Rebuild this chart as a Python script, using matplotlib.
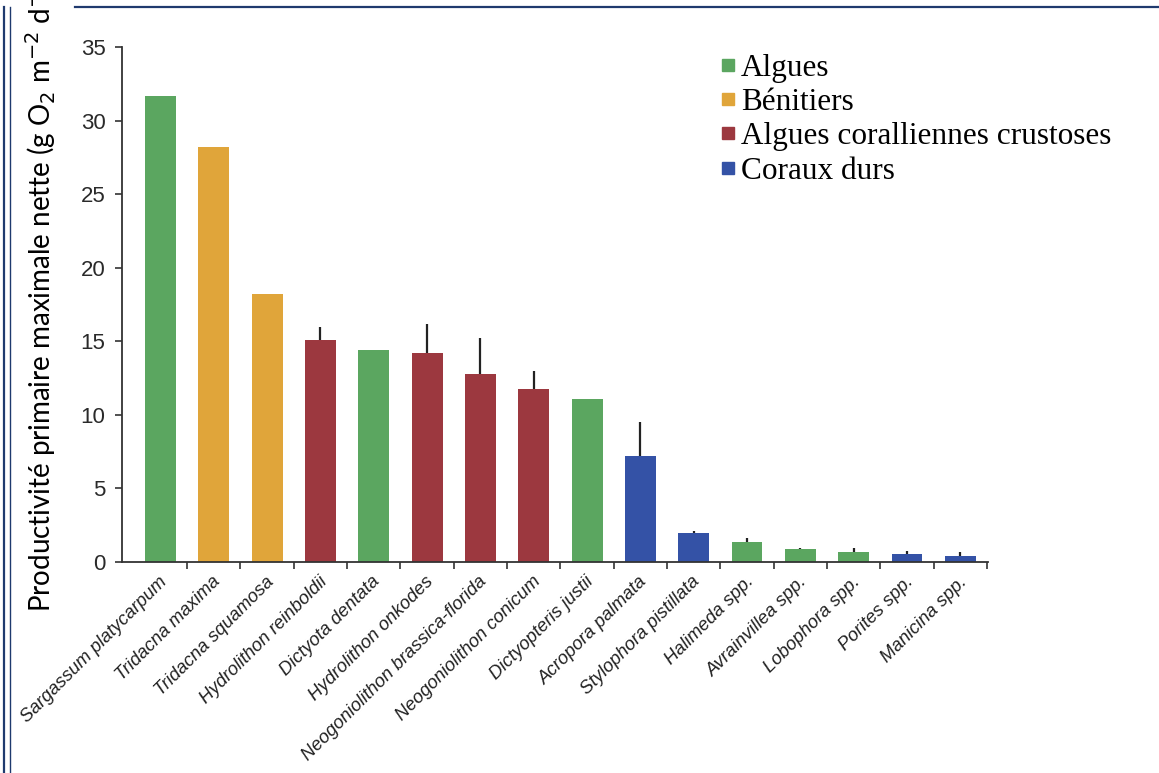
import numpy as np
import matplotlib.pyplot as plt
from matplotlib.lines import Line2D
import matplotlib.transforms as mtransforms

# Net maximum primary productivity by taxon
species = [
    "Sargassum platycarpum", "Tridacna maxima", "Tridacna squamosa",
    "Hydrolithon reinboldii", "Dictyota dentata", "Hydrolithon onkodes",
    "Neogoniolithon brassica-florida", "Neogoniolithon conicum",
    "Dictyopteris justii", "Acropora palmata", "Stylophora pistillata",
    "Halimeda spp.", "Avrainvillea spp.", "Lobophora spp.",
    "Porites spp.", "Manicina spp.",
]
groups = [
    "Algues", "Bénitiers", "Bénitiers", "Algues coralliennes crustoses",
    "Algues", "Algues coralliennes crustoses", "Algues coralliennes crustoses",
    "Algues coralliennes crustoses", "Algues", "Coraux durs", "Coraux durs",
    "Algues", "Algues", "Algues", "Coraux durs", "Coraux durs",
]
productivity = [31.7, 28.2, 18.2, 15.1, 14.4, 14.2, 12.8, 11.75,
                11.05, 7.2, 1.95, 1.35, 0.87, 0.71, 0.52, 0.39]
error_up = [0, 0, 0, 0.9, 0, 2.0, 2.4, 1.25,
            0, 2.3, 0.15, 0.25, 0.1, 0.22, 0.21, 0.27]

group_names = ["Algues", "Bénitiers", "Algues coralliennes crustoses", "Coraux durs"]
group_colors = {
    "Algues": "#5ba660",
    "Bénitiers": "#e0a53a",
    "Algues coralliennes crustoses": "#9c383f",
    "Coraux durs": "#3452a6",
}

fig = plt.figure(figsize=(11.59, 7.73), dpi=100)
ax = fig.add_axes([0.1053, 0.2730, 0.7472, 0.6662])

x = np.arange(len(species))
colors = [group_colors[g] for g in groups]
ax.bar(x, productivity, width=0.58, color=colors, zorder=2)
ax.errorbar(x, productivity, yerr=[np.zeros(len(x)), error_up], fmt="none",
            ecolor="#222222", elinewidth=1.6, capsize=0, zorder=3)

ax.set_xlim(-0.72, 15.52)
ax.set_ylim(0, 35)
ax.set_yticks(np.arange(0, 36, 5))
ax.set_xticks(x + 0.5)
ax.set_xticklabels([])
ax.tick_params(axis="both", direction="out", length=5, width=1.2,
               color="#333333", labelsize=16)
ax.tick_params(axis="y", pad=7)
for lbl in ax.get_yticklabels():
    lbl.set_fontfamily("Liberation Sans")
    lbl.set_color("#2a2a2a")

for side in ["top", "right"]:
    ax.spines[side].set_visible(False)
for side in ["left", "bottom"]:
    ax.spines[side].set_color("#333333")
    ax.spines[side].set_linewidth(1.3)

# species names under the bars, rotated 45 degrees
offset = mtransforms.ScaledTranslation(-1.5 / 72, -8 / 72, fig.dpi_scale_trans)
for xi, name in zip(x, species):
    ax.text(xi, 0, name, transform=ax.get_xaxis_transform() + offset,
            rotation=45, rotation_mode="anchor", ha="right", va="top",
            fontsize=13.2, style="italic", family="Liberation Sans",
            color="#222222")

fig.text(0.035, 1 - 612 / 773,
         "Productivité primaire maximale nette (g O$_2$ m$^{-2}$ d$^{-1}$)",
         rotation=90, ha="center", va="bottom", fontsize=20,
         family=["Lato", "DejaVu Sans"])

handles = [Line2D([], [], marker="s", linestyle="none", markersize=9,
                  color=group_colors[g]) for g in group_names]
fig.legend(handles, group_names, loc="upper left",
           bbox_to_anchor=(703 / 1159, 1 - 38 / 773), frameon=False,
           prop={"family": "Liberation Serif", "size": 22.5},
           handlelength=0.6, handletextpad=0.12, labelspacing=0.17,
           borderpad=0)

# page frame
frame = "#1f3a6e"
fig.add_artist(Line2D([3.5 / 1159, 3.5 / 1159], [0, 1 - 7 / 773],
                      color=frame, lw=1.6))
fig.add_artist(Line2D([9.5 / 1159, 9.5 / 1159], [0, 1 - 7 / 773],
                      color=frame, lw=1.0))
fig.add_artist(Line2D([75 / 1159, 1], [1 - 7 / 773, 1 - 7 / 773],
                      color=frame, lw=1.6))

fig.savefig("out.png", dpi=100)
